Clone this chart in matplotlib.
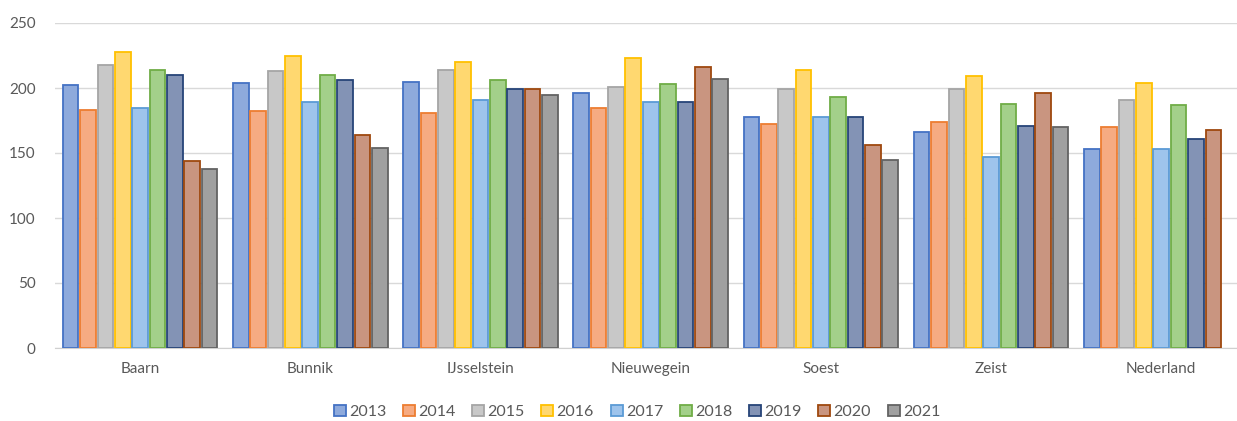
import matplotlib
matplotlib.use('Agg')
import matplotlib.pyplot as plt
import numpy as np

plt.rcParams['font.family'] = ['Lato', 'DejaVu Sans']

gemeenten = ['Baarn', 'Bunnik', 'IJsselstein', 'Nieuwegein', 'Soest', 'Zeist', 'Nederland']
jaren = ['2013', '2014', '2015', '2016', '2017', '2018', '2019', '2020', '2021']

v2013 = [202, 204, 205, 196, 178, 166, 153]
v2014 = [183, 182, 181, 185, 172, 174, 170]
v2015 = [218, 213, 214, 201, 199, 199, 191]
v2016 = [228, 225, 220, 223, 214, 209, 204]
v2017 = [185, 189, 191, 189, 178, 147, 153]
v2018 = [214, 210, 206, 203, 193, 188, 187]
v2019 = [210, 206, 199, 189, 178, 171, 161]
v2020 = [144, 164, 199, 216, 156, 196, 168]
v2021 = [138, 154, 195, 207, 145, 170, np.nan]

reeksen = [v2013, v2014, v2015, v2016, v2017, v2018, v2019, v2020, v2021]

vulkleur = ['#8eaadc', '#f6ab82', '#c8c8c8', '#ffd870', '#9ec4ec', '#a3d08a',
            '#8393b5', '#c99580', '#a0a0a0']
randkleur = ['#4472c4', '#ed7d31', '#a5a5a5', '#ffc000', '#5b9bd5', '#70ad47',
             '#264478', '#9e480e', '#636363']

fig = plt.figure(figsize=(12.37, 4.21), dpi=100)
ax = fig.add_axes([55 / 1237, 73 / 421, 1182 / 1237, 325 / 421])

x = np.arange(len(gemeenten))
pitch = 0.102
breedte = 0.092
for i, (jaar, waarden) in enumerate(zip(jaren, reeksen)):
    ax.bar(x + (i - 4) * pitch, waarden, width=breedte, color=vulkleur[i],
           edgecolor=randkleur[i], linewidth=1.3, label=jaar, zorder=3)

ax.set_xlim(-0.5, 6.445)
ax.set_ylim(0, 250)
ax.set_yticks([0, 50, 100, 150, 200, 250])
ax.set_xticks(x)
ax.set_xticklabels(gemeenten)
ax.grid(axis='y', color='#d9d9d9', linewidth=1, zorder=0)
for s in ['top', 'right', 'left']:
    ax.spines[s].set_visible(False)
ax.spines['bottom'].set_color('#d0d0d0')
ax.tick_params(axis='both', length=0, labelsize=11, colors='#595959')
ax.tick_params(axis='x', pad=10)
ax.tick_params(axis='y', pad=14)

leg = fig.legend(loc='center', bbox_to_anchor=(637 / 1237, 1 - 412 / 421), ncol=9,
                 frameon=False, fontsize=11.5, handlelength=0.75, handleheight=0.75,
                 handletextpad=0.2, columnspacing=1.05)
for t in leg.get_texts():
    t.set_color('#595959')

fig.savefig('out.png', dpi=100)
